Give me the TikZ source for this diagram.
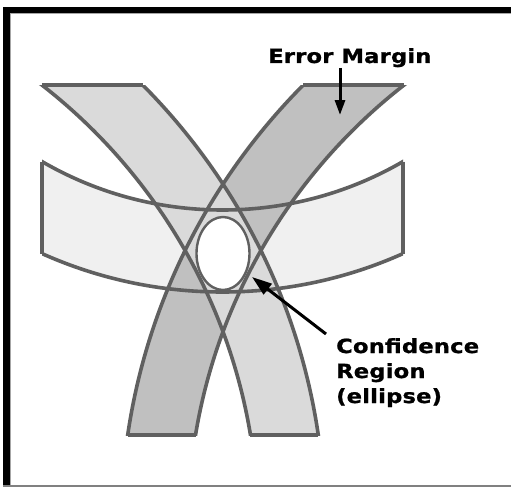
\documentclass[tikz,border=0pt]{standalone}
\usepackage{fontspec}
\setmainfont{DejaVu Sans}
\usetikzlibrary{arrows.meta}
\definecolor{hfill}{HTML}{F0F0F0}
\definecolor{afill}{HTML}{DADADA}
\definecolor{bfill}{HTML}{C0C0C0}
\definecolor{edgec}{HTML}{606060}
\begin{document}
\begin{tikzpicture}[x=1pt,y=-1pt,
  edge/.style={draw=edgec,line width=3.6pt},
  lbl/.style={font=\bfseries\fontsize{19.5}{25}\selectfont\addfontfeature{FakeStretch=1.16,FakeBold=1,LetterSpace=1},inner sep=0pt,align=left},
  pointer/.style={line width=3pt}]
\useasboundingbox (0,0) rectangle (511,487);
\fill[white] (0,0) rectangle (511,487);
% ---- fills
\begin{scope}
  \clip (42,0) rectangle (403,487);
  \fill[hfill,even odd rule] (222.5,-150) circle[radius=442pt] (222.5,-150) circle[radius=360pt];
\end{scope}
\begin{scope}
  \clip (0,85) rectangle (511,435);
  \fill[bfill,even odd rule] (748,527) circle[radius=627pt] (748,527) circle[radius=560pt];
  \fill[afill,even odd rule] (-302,527) circle[radius=627pt] (-302,527) circle[radius=560pt];
\end{scope}
\fill[white] (223,253.5) ellipse[x radius=26.5pt,y radius=36.5pt];
% ---- outlines
\begin{scope}
  \clip (42,0) rectangle (403,487);
  \draw[edge] (222.5,-150) circle[radius=442pt];
  \draw[edge] (222.5,-150) circle[radius=360pt];
\end{scope}
\draw[edge] (42,161.5) -- (42,253.5);
\draw[edge] (403,161.5) -- (403,253.5);
\begin{scope}
  \clip (0,85) rectangle (511,435);
  \draw[edge] (748,527) circle[radius=627pt];
  \draw[edge] (748,527) circle[radius=560pt];
  \draw[edge] (-302,527) circle[radius=627pt];
  \draw[edge] (-302,527) circle[radius=560pt];
\end{scope}
\draw[edge] (41.9,85) -- (142.7,85);
\draw[edge] (250.4,435) -- (318.2,435);
\draw[edge] (303.3,85) -- (404.1,85);
\draw[edge] (127.8,435) -- (195.6,435);
\draw[edge,line width=2.4pt] (223,253.5) ellipse[x radius=26.5pt,y radius=36.5pt];
% ---- labels
\node[lbl,anchor=base west] (em) at (268,63) {Error Margin};
\coordinate (emtail) at (340,68);
\coordinate (emtip) at (340,115);
\draw[pointer,-{Triangle[length=15pt,width=10pt]}] (emtail) -- (emtip);
\node[lbl,anchor=north west] (cr) at (336,338) {Confidence\\Region\\(ellipse)};
\coordinate (crtail) at (326,334);
\coordinate (crtip) at (252,277);
\draw[pointer,-{Triangle[length=20pt,width=13pt]}] (crtail) -- (crtip);
% ---- frame
\fill[black] (3,7) rectangle (511,13.5);
\fill[black] (3,7) rectangle (10,486);
\draw[gray!70,line width=1pt] (10,14) -- (511,14);
\draw[gray!70,line width=1pt] (10.5,14) -- (10.5,485);
\fill[gray] (3,485) rectangle (511,487);
\end{tikzpicture}
\end{document}
